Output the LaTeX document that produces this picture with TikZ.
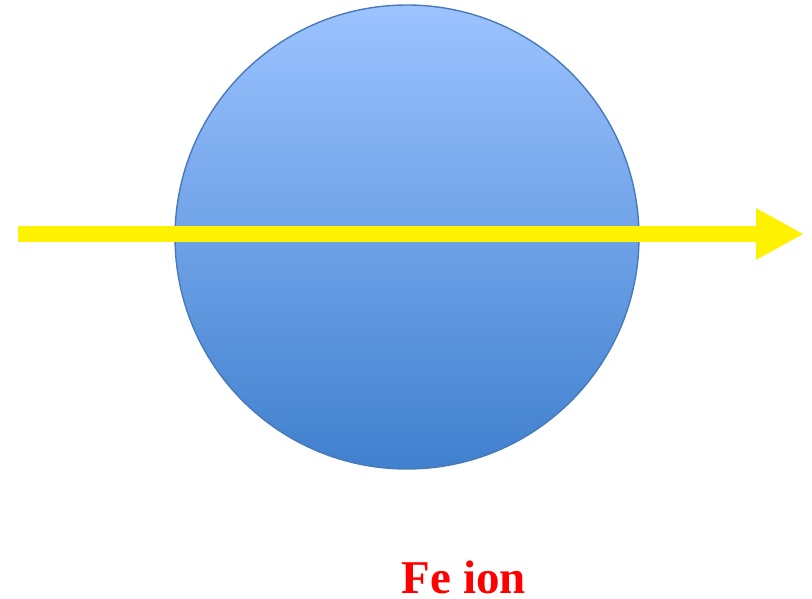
\documentclass[tikz,border=0pt]{standalone}
\usepackage{fontspec}
\setmainfont{Liberation Serif}
\usetikzlibrary{arrows.meta}
\definecolor{balltop}{RGB}{156,195,255}
\definecolor{ballbot}{RGB}{64,128,206}
\definecolor{ballrim}{RGB}{72,122,186}
\definecolor{ionred}{RGB}{255,0,0}
\tikzset{
  ball/.style={circle, draw=ballrim, line width=1.4pt, top color=balltop, bottom color=ballbot, minimum size=464pt, inner sep=0pt},
  beam/.style={yellow, line width=16pt, -{Triangle[length=48pt,width=48pt]}},
  label/.style={text=ionred, font=\fontsize{47}{50}\selectfont\bfseries, anchor=base, inner sep=0pt}
}
\begin{document}
\begin{tikzpicture}[x=1pt,y=-1pt]
\useasboundingbox (0,0) rectangle (812,599);
\node[ball] (ion) at (407,237) {};
\coordinate (beamstart) at (18,234);
\coordinate (beamend) at (804,234);
\draw[beam] (beamstart) -- (beamend);
\node[label] (name) at (464,593) {Fe ion};
\end{tikzpicture}
\end{document}
